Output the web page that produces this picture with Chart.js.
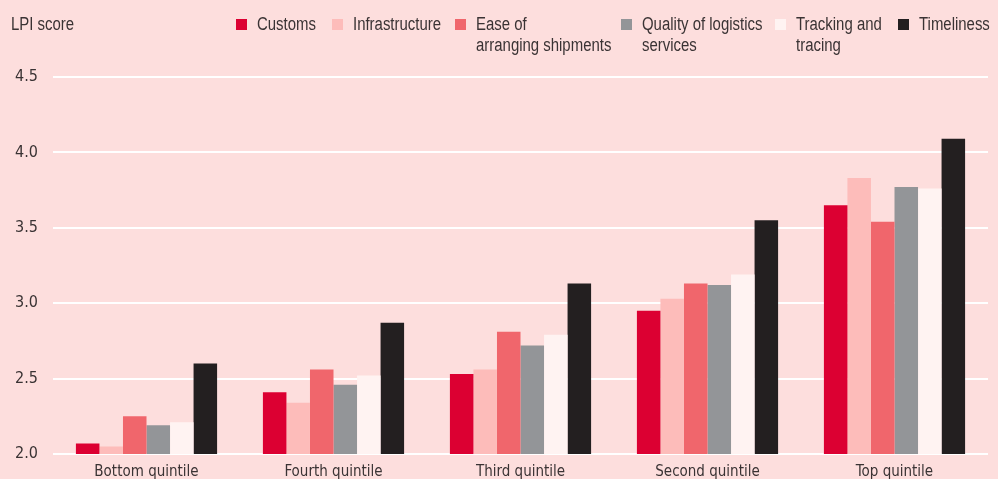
<!DOCTYPE html>
<html>
<head>
<meta charset="utf-8">
<script src="https://cdn.jsdelivr.net/npm/chart.js@4"></script>
<style>
  html, body { margin: 0; padding: 0; background: #fddedd; }
  #wrap { position: relative; width: 998px; height: 479px; font-family: 'Liberation Sans', sans-serif; color: #3a3334; }
  #chart { position: absolute; left: 0; top: 0; }
  .txt { position: absolute; font-size: 18px; line-height: 21px; transform: scaleX(0.83); transform-origin: left top; white-space: nowrap; }
  #ytitle { left: 11px; top: 14px; }
  .lg { top: 14px; }
  .sq { position: absolute; top: 19px; width: 11px; height: 11px; }
</style>
</head>
<body>
<div id="wrap">
  <canvas id="chart" width="998" height="479"></canvas>
  <div id="ytitle" class="txt">LPI score</div>
  <div id="legend"></div>
</div>
<script>
const categories = ['Bottom quintile', 'Fourth quintile', 'Third quintile', 'Second quintile', 'Top quintile'];
const seriesNames = [['Customs'], ['Infrastructure'], ['Ease of', 'arranging shipments'], ['Quality of logistics', 'services'], ['Tracking and', 'tracing'], ['Timeliness']];
const seriesColors = ['#dc0032', '#fdbcba', '#f0666c', '#939598', '#fff3f2', '#231f20'];
const customs        = [2.07, 2.41, 2.53, 2.95, 3.65];
const infrastructure = [2.05, 2.34, 2.56, 3.03, 3.83];
const easeShipments  = [2.25, 2.56, 2.81, 3.13, 3.54];
const qualityLogs    = [2.19, 2.46, 2.72, 3.12, 3.77];
const tracking       = [2.21, 2.52, 2.79, 3.19, 3.76];
const timeliness     = [2.60, 2.87, 3.13, 3.55, 4.09];
const yTicks = [2.0, 2.5, 3.0, 3.5, 4.0, 4.5];

const allSeries = [customs, infrastructure, easeShipments, qualityLogs, tracking, timeliness];
const legendX = [257, 353, 476, 642, 796, 919];

// html legend (multi-line labels)
const lg = document.getElementById('legend');
seriesNames.forEach((lines, i) => {
  const sq = document.createElement('div');
  sq.className = 'sq';
  sq.style.left = (legendX[i] - 21) + 'px';
  sq.style.background = seriesColors[i];
  lg.appendChild(sq);
  const d = document.createElement('div');
  d.className = 'txt lg';
  d.style.left = legendX[i] + 'px';
  d.innerHTML = lines.join('<br>');
  lg.appendChild(d);
});

const family = "'DejaVu Sans Condensed', 'Liberation Sans', sans-serif";

new Chart(document.getElementById('chart'), {
  type: 'bar',
  data: {
    labels: categories,
    datasets: allSeries.map((vals, i) => ({
      label: seriesNames[i].join(' '),
      data: vals,
      backgroundColor: seriesColors[i],
      borderWidth: 0,
      categoryPercentage: 0.755,
      barPercentage: 1.0,
    })),
  },
  options: {
    responsive: false,
    animation: false,
    layout: { padding: { top: 77, right: 10, left: 0, bottom: 0 } },
    plugins: { legend: { display: false }, tooltip: { enabled: false } },
    scales: {
      y: {
        min: 2.0,
        max: 4.5,
        afterBuildTicks: s => { s.ticks = yTicks.map(v => ({ value: v })); },
        afterFit: s => { s.width = 53; },
        border: { display: false },
        grid: { color: '#ffffff', lineWidth: 2, drawTicks: false },
        ticks: { color: '#3a3334', font: { family, size: 16 }, padding: 15, callback: v => Number(v).toFixed(1) },
      },
      x: {
        afterFit: s => { s.height = 25; },
        border: { display: false },
        grid: { display: false },
        ticks: { color: '#3a3334', font: { family, size: 15 }, padding: 1, maxRotation: 0 },
      },
    },
  },
});
</script>
</body>
</html>
